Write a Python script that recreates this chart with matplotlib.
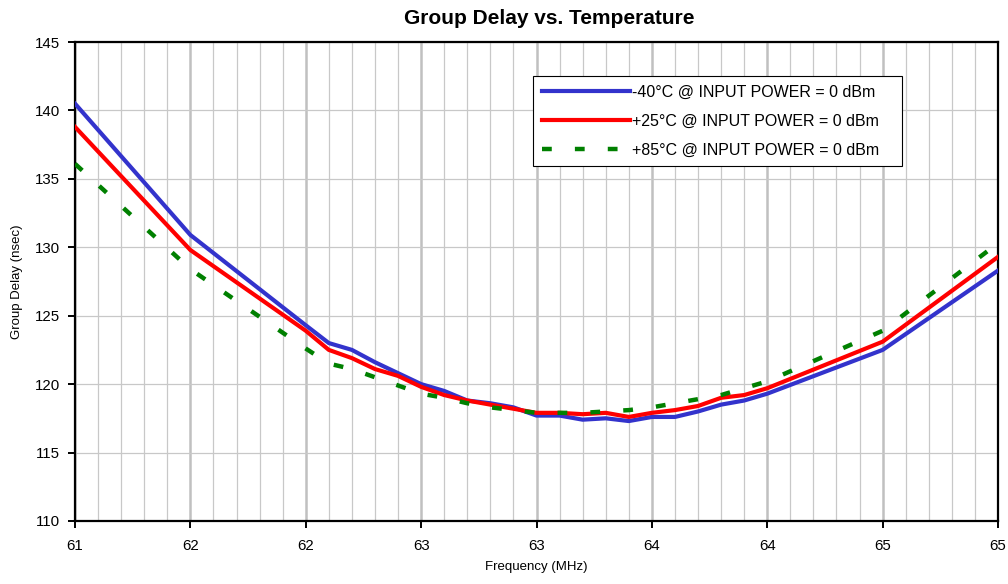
import matplotlib
matplotlib.use("Agg")
import matplotlib.pyplot as plt
from matplotlib.ticker import MultipleLocator

plt.rcParams["font.family"] = ["Liberation Sans", "DejaVu Sans"]

# ─────────────────────────────────────────────────────────────────────────────
# Data
# ─────────────────────────────────────────────────────────────────────────────

freq = [61.0, 61.5, 62.0, 62.1, 62.2, 62.3, 62.4, 62.5, 62.6, 62.7, 62.8, 62.9,
        63.0, 63.1, 63.2, 63.3, 63.4, 63.5, 63.6, 63.7, 63.8, 63.9, 64.0, 64.5, 65.0]

delay_m40 = [140.5, 130.9, 124.3, 123.0, 122.5, 121.6, 120.8, 120.0, 119.5, 118.8,
             118.6, 118.3, 117.7, 117.7, 117.4, 117.5, 117.3, 117.6, 117.6, 118.0,
             118.5, 118.8, 119.3, 122.5, 128.3]

delay_p25 = [138.8, 129.8, 123.9, 122.5, 121.9, 121.1, 120.6, 119.8, 119.2, 118.8,
             118.5, 118.2, 117.9, 117.9, 117.8, 117.9, 117.6, 117.9, 118.1, 118.4,
             119.0, 119.2, 119.7, 123.1, 129.3]

delay_p85 = [136.1, 128.4, 122.6, 121.5, 121.1, 120.5, 119.9, 119.3, 119.0, 118.6,
             118.3, 118.1, 117.9, 117.9, 117.9, 118.0, 118.1, 118.3, 118.6, 118.9,
             119.2, 119.7, 120.2, 123.9, 130.3]

labels = ["-40°C @ INPUT POWER = 0 dBm",
          "+25°C @ INPUT POWER = 0 dBm",
          "+85°C @ INPUT POWER = 0 dBm"]

xtick_vals = [61.0, 61.5, 62.0, 62.5, 63.0, 63.5, 64.0, 64.5, 65.0]
xtick_labels = ["61", "62", "62", "63", "63", "64", "64", "65", "65"]

# ─────────────────────────────────────────────────────────────────────────────
# Plot
# ─────────────────────────────────────────────────────────────────────────────

fig = plt.figure(figsize=(10.08, 5.84), dpi=100)
ax = fig.add_axes([0.0744, 0.108, 0.9157, 0.820])

ax.plot(freq, delay_m40, color="#3333cc", lw=3.0, label=labels[0], zorder=3)
ax.plot(freq, delay_p25, color="#ff0000", lw=3.0, label=labels[1], zorder=4)
ax.plot(freq, delay_p85, color="#008000", lw=3.2, ls=(0, (2.2, 5.2)),
        dash_capstyle="butt", label=labels[2], zorder=5)

ax.set_xlim(61, 65)
ax.set_ylim(110, 145)
ax.set_xticks(xtick_vals)
ax.set_xticklabels(xtick_labels)
ax.xaxis.set_minor_locator(MultipleLocator(0.1))
ax.yaxis.set_major_locator(MultipleLocator(5))

ax.grid(which="major", axis="x", color="#c0c0c0", lw=1.8, zorder=0)
ax.grid(which="minor", axis="x", color="#c8c8c8", lw=0.9, zorder=0)
ax.grid(which="major", axis="y", color="#c8c8c8", lw=0.9, zorder=0)
ax.set_axisbelow(True)

for s in ax.spines.values():
    s.set_color("black")
    s.set_linewidth(1.6)

ax.tick_params(which="major", direction="out", length=5, width=1.4,
               labelsize=10.8)
ax.tick_params(axis="x", pad=8)
ax.tick_params(axis="y", pad=6)
ax.tick_params(which="minor", length=0)

fig.text(0.5446, 0.968, "Group Delay vs. Temperature", fontsize=15,
         fontweight="bold", ha="center", va="center")
ax.set_xlabel("Frequency (MHz)", fontsize=9.5, labelpad=6)
ax.set_ylabel("Group Delay (nsec)", fontsize=9.5, labelpad=8)

leg = ax.legend(loc="upper left", bbox_to_anchor=(0.4962, 0.5, 0.3998, 0.429),
                mode="expand", fontsize=11.5,
                frameon=True, fancybox=False, edgecolor="black", framealpha=1,
                handlelength=5.5, handletextpad=0.15, labelspacing=0.86,
                borderpad=0.56, borderaxespad=0)
leg.get_frame().set_linewidth(0.8)

fig.savefig("out.png", dpi=100)
